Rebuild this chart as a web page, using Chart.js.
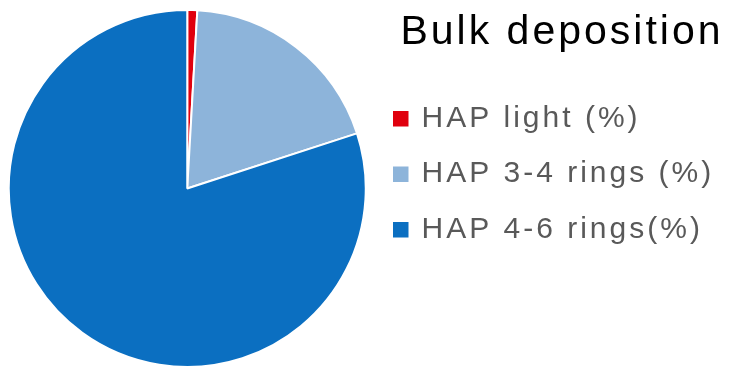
<!DOCTYPE html>
<html lang="en">

<head>
    <meta charset="UTF-8">
    <title>Bulk deposition</title>
    <style>
        html, body { margin: 0; padding: 0; background: #ffffff; }
        #pieChart { display: block; }
    </style>
</head>

<body>

    <canvas id="pieChart" width="732" height="368"></canvas>

    <script src="https://cdn.jsdelivr.net/npm/chart.js@4/dist/chart.umd.min.js"></script>
    <script>
        // HAP groups in bulk deposition, share of total (%)
        var labels = ['HAP light (%)', 'HAP 3-4 rings (%)', 'HAP 4-6 rings(%)'];
        var shares = [0.9, 19.1, 80.0];
        var colors = ['#e0000e', '#8db4da', '#0b6fc1'];

        // the labels are set a little wide, so space the letters out
        var spacedText = {
            id: 'spacedText',
            beforeLayout: function (chart) { chart.ctx.letterSpacing = '3px'; },
            beforeDraw: function (chart) { chart.ctx.letterSpacing = '3px'; }
        };

        // square swatches: stroke them in their own colour instead of the white slice border
        function makeLabels(chart) {
            var items = Chart.overrides.doughnut.plugins.legend.labels.generateLabels(chart);
            items.forEach(function (it) {
                it.strokeStyle = it.fillStyle;
                it.lineWidth = 4;
            });
            return items;
        }

        var ctx = document.getElementById('pieChart').getContext('2d');
        var myPieChart = new Chart(ctx, {
            type: 'pie',
            data: {
                labels: labels,
                datasets: [{
                    data: shares,
                    backgroundColor: colors,
                    borderColor: '#ffffff',
                    borderWidth: 2
                }]
            },
            options: {
                responsive: false,
                animation: false,
                devicePixelRatio: 1,
                layout: {
                    padding: { left: 5, right: 8.5, top: 9, bottom: 0 }
                },
                plugins: {
                    tooltip: { enabled: false },
                    legend: {
                        position: 'right',
                        align: 'start',
                        maxWidth: 354,
                        title: {
                            display: true,
                            text: 'Bulk deposition',
                            position: 'end',
                            color: '#000000',
                            font: { family: 'Arial, "Liberation Sans", sans-serif', size: 41, lineHeight: 1.2 },
                            padding: { top: 3.6, bottom: 16.4 }
                        },
                        labels: {
                            boxWidth: 11.5,
                            boxHeight: 11.5,
                            padding: 25.5,
                            color: '#595959',
                            font: { family: 'Arial, "Liberation Sans", sans-serif', size: 30 },
                            generateLabels: makeLabels
                        }
                    }
                }
            },
            plugins: [spacedText]
        });
    </script>
</body>

</html>
